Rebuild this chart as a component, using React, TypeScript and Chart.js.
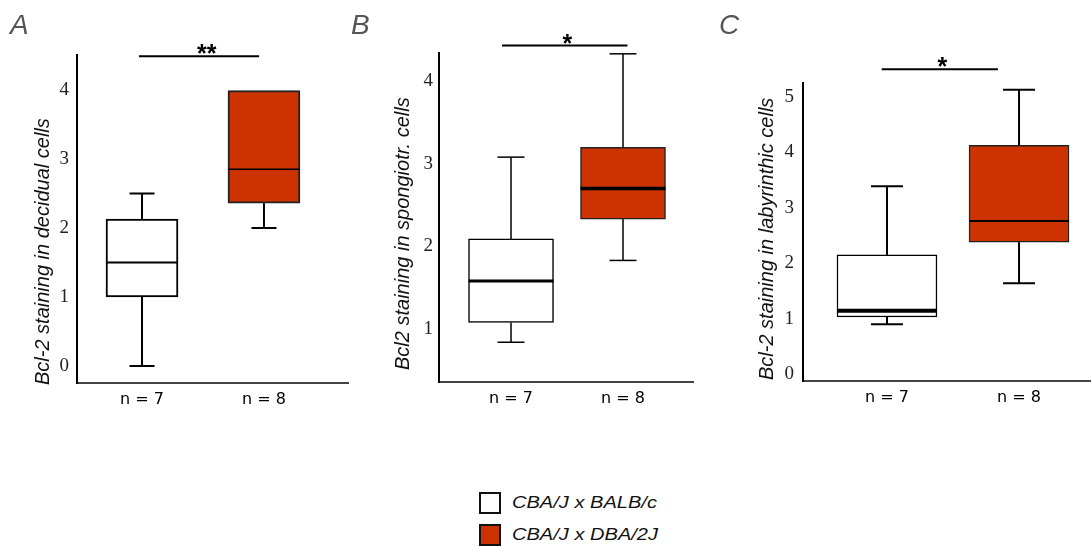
import React, { useEffect, useRef } from "react";
import { Chart, registerables } from "chart.js";

Chart.register(...registerables);

// ---------------- data ----------------
const groupNames = ["CBA/J x BALB/c", "CBA/J x DBA/2J"];
const groupColors = ["#ffffff", "#cc3300"];
const nLabels = ["n = 7", "n = 8"];
const panelLetters = ["A", "B", "C"];
const yTitles = [
  "Bcl-2 staining in decidual cells",
  "Bcl2 staining in spongiotr. cells",
  "Bcl-2 staining in labyrinthic cells",
];
const sigMarks = ["**", "*", "*"];

// five-number summaries: [min, q1, median, q3, max]
const decidualBalb = [0, 1.0, 1.5, 2.13, 2.5];
const decidualDba = [2.0, 2.36, 2.85, 3.99, 3.99];
const spongioBalb = [0.84, 1.08, 1.58, 2.09, 3.08];
const spongioDba = [1.83, 2.33, 2.7, 3.2, 4.33];
const labyBalb = [0.9, 1.03, 1.14, 2.15, 3.39];
const labyDba = [1.64, 2.38, 2.76, 4.13, 5.13];

// y tick labels
const decidualTicks = [0, 1, 2, 3, 4];
const spongioTicks = [1, 2, 3, 4];
const labyTicks = [0, 1, 2, 3, 4, 5];

// axis ranges [min, max]
const decidualYRange = [-0.246, 4.507];
const spongioYRange = [0.359, 4.34];
const labyYRange = [-0.126, 5.253];
const decidualXRange = [0.467, 2.689];
const spongioXRange = [0.357, 2.625];
const labyXRange = [0.364, 2.545];

// significance bar: [level, from, to, mark x]
const decidualSig = [4.49, 0.975, 1.96, 1.53];
const spongioSig = [4.43, 0.92, 2.04, 1.504];
const labySig = [5.5, 0.96, 1.84, 1.42];

// ---------------- layout / style ----------------
type PanelCfg = {
  idx: number;
  balb: number[];
  dba: number[];
  yTicks: number[];
  yRange: number[];
  xRange: number[];
  sig: number[];
  left: number;
  width: number;
  padTop: number;
  padRight: number;
  yAxisW: number;
  xAxisH: number;
  tickPad: number;
  boxPx: number;
  capPx: number;
  whiskerW: number;
  medianW: number[];
  boxBorder: number;
  titleOffset: number;
  titleBottom: number;
  letterX: number;
};

const HEIGHT = 420;

const panels: PanelCfg[] = [
  {
    idx: 0, balb: decidualBalb, dba: decidualDba, yTicks: decidualTicks,
    yRange: decidualYRange, xRange: decidualXRange, sig: decidualSig,
    left: 0, width: 356, padTop: 55, padRight: 8, yAxisW: 77, xAxisH: 37, tickPad: 8,
    boxPx: 72, capPx: 25, whiskerW: 2, medianW: [2, 1.5], boxBorder: 2,
    titleOffset: 34, titleBottom: 385, letterX: 10,
  },
  {
    idx: 1, balb: spongioBalb, dba: spongioDba, yTicks: spongioTicks,
    yRange: spongioYRange, xRange: spongioXRange, sig: spongioSig,
    left: 356, width: 350, padTop: 53, padRight: 13, yAxisW: 83, xAxisH: 38, tickPad: 6,
    boxPx: 85, capPx: 27, whiskerW: 1.5, medianW: [3, 3.5], boxBorder: 1.5,
    titleOffset: 36, titleBottom: 370, letterX: 351,
  },
  {
    idx: 2, balb: labyBalb, dba: labyDba, yTicks: labyTicks,
    yRange: labyYRange, xRange: labyXRange, sig: labySig,
    left: 706, width: 385, padTop: 83, padRight: 0, yAxisW: 97, xAxisH: 39, tickPad: 9,
    boxPx: 100, capPx: 32, whiskerW: 2, medianW: [4, 2], boxBorder: 1.5,
    titleOffset: 36, titleBottom: 380, letterX: 719,
  },
];

function BoxPanel({ p }: { p: PanelCfg }) {
  const ref = useRef<HTMLCanvasElement | null>(null);

  useEffect(() => {
    if (!ref.current) return;
    const stats = [p.balb, p.dba];

    const extras = {
      id: "boxExtras",
      afterDatasetsDraw(chart: any) {
        const { ctx, chartArea } = chart;
        const xs = chart.scales.x;
        const ys = chart.scales.y;
        const X = (v: number) => xs.getPixelForValue(v);
        const Y = (v: number) => ys.getPixelForValue(v);
        const seg = (x1: number, y1: number, x2: number, y2: number) => {
          ctx.beginPath();
          ctx.moveTo(x1, y1);
          ctx.lineTo(x2, y2);
          ctx.stroke();
        };
        ctx.save();
        ctx.lineCap = "butt";
        ctx.strokeStyle = "#000";
        stats.forEach((s, i) => {
          const cx = X(i + 1);
          const [mn, q1, med, q3, mx] = s;
          const capHalf = p.capPx / 2;
          ctx.lineWidth = p.whiskerW;
          if (mx > q3) {
            seg(cx, Y(q3), cx, Y(mx));
            seg(cx - capHalf, Y(mx), cx + capHalf, Y(mx));
          }
          if (mn < q1) {
            seg(cx, Y(q1), cx, Y(mn));
            seg(cx - capHalf, Y(mn), cx + capHalf, Y(mn));
          }
          ctx.lineWidth = p.medianW[i];
          const half = p.boxPx / 2;
          seg(cx - half, Y(med), cx + half, Y(med));
        });

        // significance bar
        const [lvl, a, b, mx] = p.sig;
        const sy = Y(lvl);
        ctx.lineWidth = 2;
        seg(X(a), sy, X(b), sy);
        ctx.fillStyle = "#000";
        ctx.font = 'bold 25px "Liberation Sans"';
        ctx.textAlign = "center";
        ctx.textBaseline = "alphabetic";
        ctx.fillText(sigMarks[p.idx], X(mx), sy + 6);

        // y-axis title
        ctx.translate(chartArea.left - p.titleOffset, p.titleBottom);
        ctx.rotate(-Math.PI / 2);
        ctx.font = 'italic 20px "Liberation Sans"';
        ctx.textAlign = "left";
        ctx.textBaseline = "middle";
        ctx.fillStyle = "#111";
        ctx.fillText(yTitles[p.idx], 0, 0);
        ctx.restore();
      },
    };

    const chart = new Chart(ref.current, {
      type: "bar",
      data: {
        datasets: [
          {
            label: "box",
            data: stats.map((s, i) => ({ x: i + 1, y: [s[1], s[3]] })) as any,
            backgroundColor: groupColors,
            borderColor: ["#000", "#222"],
            borderWidth: p.boxBorder,
            borderSkipped: false,
            barThickness: p.boxPx,
          },
        ],
      },
      options: {
        animation: false,
        responsive: false,
        maintainAspectRatio: false,
        events: [],
        layout: { padding: { left: 0, top: p.padTop, right: p.padRight, bottom: 0 } },
        plugins: { legend: { display: false }, tooltip: { enabled: false } },
        scales: {
          x: {
            type: "linear",
            min: p.xRange[0],
            max: p.xRange[1],
            offset: false,
            grid: { display: false, drawTicks: false },
            border: { display: true, color: "#444", width: 2 },
            afterBuildTicks: (s: any) => {
              s.ticks = [1, 2].map((v) => ({ value: v }));
            },
            afterFit: (s: any) => {
              s.height = p.xAxisH;
            },
            ticks: {
              autoSkip: false,
              maxRotation: 0,
              padding: 7,
              color: "#000",
              font: { family: "DejaVu Sans", size: 16 },
              callback: (_v: any, i: number) => nLabels[i],
            },
          },
          y: {
            type: "linear",
            min: p.yRange[0],
            max: p.yRange[1],
            grid: { display: false, drawTicks: false },
            border: { display: true, color: "#000", width: 2 },
            afterBuildTicks: (s: any) => {
              s.ticks = p.yTicks.map((v) => ({ value: v }));
            },
            afterFit: (s: any) => {
              s.width = p.yAxisW;
            },
            ticks: {
              padding: p.tickPad,
              color: "#222",
              font: { family: "Liberation Serif", size: 19 },
              callback: (v: any) => String(v),
            },
          },
        },
      } as any,
      plugins: [extras],
    });
    return () => chart.destroy();
  }, [p]);

  return (
    <canvas
      ref={ref}
      width={p.width}
      height={HEIGHT}
      style={{ position: "absolute", left: p.left, top: 0, width: p.width, height: HEIGHT }}
    />
  );
}

export default function App() {
  return (
    <div
      style={{
        position: "absolute",
        left: 0,
        top: 0,
        width: 1091,
        height: 548,
        background: "#fff",
        overflow: "hidden",
      }}
    >
      {panels.map((p) => (
        <BoxPanel key={p.idx} p={p} />
      ))}
      {panels.map((p) => (
        <div
          key={"letter" + p.idx}
          style={{
            position: "absolute",
            left: p.letterX,
            top: 11,
            font: 'italic 28px "Liberation Sans"',
            lineHeight: "28px",
            color: "#555",
          }}
        >
          {panelLetters[p.idx]}
        </div>
      ))}
      {groupNames.map((g, i) => (
        <div
          key={g}
          style={{
            position: "absolute",
            left: 479,
            top: 492 + i * 32,
            height: 22,
            display: "flex",
            alignItems: "center",
          }}
        >
          <div
            style={{
              width: 22,
              height: 22,
              boxSizing: "border-box",
              border: "2.5px solid #111",
              background: groupColors[i],
            }}
          />
          <span
            style={{
              marginLeft: 11,
              font: 'italic 17px "Liberation Sans"',
              color: "#111",
              whiteSpace: "nowrap",
              display: "inline-block",
              transform: "scaleX(1.18)",
              transformOrigin: "left center",
            }}
          >
            {g}
          </span>
        </div>
      ))}
    </div>
  );
}
